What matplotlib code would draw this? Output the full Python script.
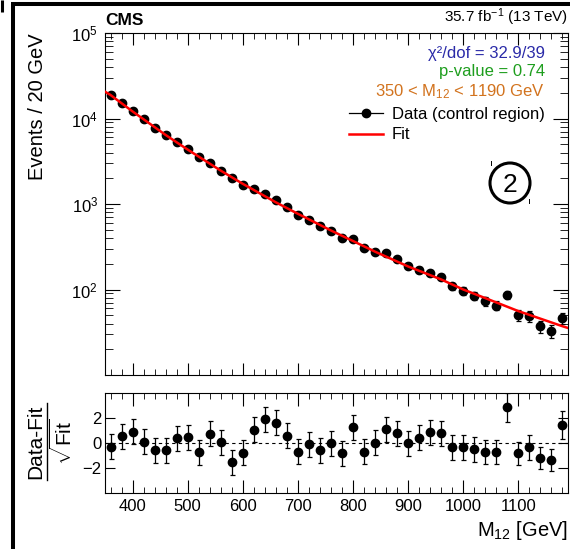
import numpy as np
import matplotlib.pyplot as plt
from matplotlib.lines import Line2D
from matplotlib.patches import Ellipse
from matplotlib.ticker import MultipleLocator, LogLocator, NullFormatter, NullLocator

plt.rcParams['font.family'] = ['Liberation Sans', 'DejaVu Sans']
plt.rcParams['mathtext.fontset'] = 'custom'
plt.rcParams['mathtext.rm'] = 'Liberation Sans'
plt.rcParams['mathtext.it'] = 'Liberation Sans:italic'
plt.rcParams['mathtext.bf'] = 'Liberation Sans:bold'
plt.rcParams['mathtext.sf'] = 'Liberation Sans'

# 20 GeV bins between 350 and 1190 GeV (bin centres)
m12 = [360, 380, 400, 420, 440, 460, 480, 500, 520, 540,
       560, 580, 600, 620, 640, 660, 680, 700, 720, 740,
       760, 780, 800, 820, 840, 860, 880, 900, 920, 940,
       960, 980, 1000, 1020, 1040, 1060, 1080, 1100, 1120, 1140,
       1160, 1180]

events = [18800, 15100, 12200, 9800, 7830, 6370, 5310, 4360, 3530, 2980,
          2460, 2000, 1690, 1500, 1300, 1100, 923, 749, 653, 556,
          489, 405, 394, 308, 277, 265, 225, 186, 170, 158,
          140, 109, 97, 85, 73, 65, 86, 50, 48.6, 37.3,
          32.6, 45.9]

pulls = [-0.30, 0.56, 0.90, 0.10, -0.56, -0.58, 0.40, 0.45, -0.72, 0.74,
         0.05, -1.52, -0.78, 1.06, 1.90, 1.62, 0.58, -0.70, -0.08, -0.56,
         -0.03, -0.80, 1.26, -0.70, 0.02, 1.10, 0.78, -0.03, 0.42, 0.88,
         0.77, -0.32, -0.35, -0.48, -0.70, -0.70, 2.88, -0.83, -0.35, -1.20,
         -1.34, 1.42]

pull_err = [1.0] * 34 + [0.96, 0.96, 1.16, 0.95, 0.98, 0.91, 0.89, 1.11]

# fit curve
fit_m12 = [350, 360, 400, 460, 500, 560, 600, 660, 700, 760,
           800, 840, 900, 960, 1000, 1060, 1100, 1180, 1190]
fit_val = [20600, 18840, 12100, 6420, 4330, 2457, 1722, 1046, 768, 490,
           369, 277, 186, 131, 100, 70.6, 55.9, 37.2, 35.5]

fig = plt.figure(figsize=(5.7, 5.49), dpi=100)
ax = fig.add_axes([0.1842, 0.3169, 0.8123, 0.6230])
ax2 = fig.add_axes([0.1842, 0.1020, 0.8123, 0.1821])

# main panel
ax.errorbar(m12, events, yerr=np.sqrt(events), fmt='o', color='black',
            markersize=6, elinewidth=0.9, capsize=1.8, capthick=0.9, zorder=3)
ax.plot(fit_m12, fit_val, color='red', lw=1.8, zorder=4)

ax.set_yscale('log')
ax.set_xlim(350, 1190)
ax.set_ylim(10, 1e5)
ax.set_yticks([1e2, 1e3, 1e4, 1e5])
ax.yaxis.set_minor_locator(LogLocator(base=10, subs=np.arange(2, 10)))
ax.yaxis.set_minor_formatter(NullFormatter())
ax.xaxis.set_major_locator(MultipleLocator(100))
ax.xaxis.set_minor_locator(MultipleLocator(20))
ax.tick_params(which='both', direction='in', top=True, right=True,
               labelbottom=False, labelsize=12)
ax.tick_params(axis='y', which='major', length=11, pad=5)
ax.tick_params(axis='y', which='minor', length=5.5)
ax.tick_params(axis='x', which='major', length=8.5)
ax.tick_params(axis='x', which='minor', length=4)
ax.set_ylabel('Events / 20 GeV', fontsize=14.5, loc='top')
ax.yaxis.set_label_coords(-0.125, 1.0)

ax.text(0.0, 1.015, 'CMS', transform=ax.transAxes, fontsize=12.5,
        fontweight='bold', ha='left', va='bottom')
ax.text(1.0, 1.015, r'35.7 fb$^{-1}$ (13 TeV)', transform=ax.transAxes,
        fontsize=11, ha='right', va='bottom')

ax.text(0.950, 0.9415, 'χ²/dof = 32.9/39', transform=ax.transAxes,
        fontsize=12, color='#2a2aa8', ha='right', va='center')
ax.text(0.950, 0.886, 'p-value = 0.74', transform=ax.transAxes,
        fontsize=12, color='#1e9e1e', ha='right', va='center')
ax.text(0.950, 0.8275, r'350 < M$_{12}$ < 1190 GeV', transform=ax.transAxes,
        fontsize=12, color='#d2731e', ha='right', va='center')

handles = [Line2D([], [], color='black', marker='o', markersize=6, lw=0.9),
           Line2D([], [], color='red', lw=1.8)]
ax.legend(handles, ['Data (control region)', 'Fit'], loc='upper right',
          bbox_to_anchor=(0.950, 0.785), frameon=False, fontsize=12,
          handlelength=2.0, handletextpad=0.55, labelspacing=0.35,
          borderaxespad=0, borderpad=0)

# ratio panel
ax2.axhline(0, color='black', ls=(0, (3, 3)), lw=0.8, zorder=1)
ax2.errorbar(m12, pulls, yerr=pull_err, fmt='o', color='black',
             markersize=6, elinewidth=0.9, capsize=1.8, capthick=0.9, zorder=3)
ax2.set_xlim(350, 1190)
ax2.set_ylim(-4, 4)
ax2.set_yticks([-2, 0, 2])
ax2.yaxis.set_minor_locator(NullLocator())
ax2.xaxis.set_major_locator(MultipleLocator(100))
ax2.xaxis.set_minor_locator(MultipleLocator(20))
ax2.tick_params(which='both', direction='in', top=True, right=True, labelsize=12)
ax2.tick_params(axis='x', which='major', length=9.5, pad=4)
ax2.tick_params(axis='x', which='minor', length=4.3)
ax2.tick_params(axis='y', which='major', length=7, pad=2.5)
ax2.set_xlabel(r'M$_{12}$ [GeV]', fontsize=14.5, loc='right')
ax2.xaxis.set_label_coords(1.0, -0.26)

# (Data-Fit)/sqrt(Fit) label drawn as a rotated fraction
ylab_y = 1 - 442 / 549
fig.text(36 / 570, ylab_y, 'Data-Fit', fontsize=15, rotation=90,
         ha='center', va='center')
fig.text(63 / 570, ylab_y, r'$\sqrt{\mathrm{Fit}}$', fontsize=15, rotation=90,
         ha='center', va='center')
fig.add_artist(Line2D([47 / 570, 47 / 570], [1 - 480 / 549, 1 - 403 / 549],
                      transform=fig.transFigure, color='black', lw=1.0))

for a in (ax, ax2):
    for s in a.spines.values():
        s.set_linewidth(0.8)

# circled "2" marker
fig.add_artist(Ellipse((510 / 570, 1 - 183 / 549), 40 / 570, 40 / 549,
                       transform=fig.transFigure, fill=False,
                       edgecolor='black', lw=2.2))
fig.text(510 / 570, 1 - 183 / 549, '2', fontsize=19, ha='center', va='center_baseline')
fig.add_artist(Line2D([491 / 570, 491 / 570], [1 - 161 / 549, 1 - 165 / 549],
                      transform=fig.transFigure, color='black', lw=0.7))
fig.add_artist(Line2D([529 / 570, 529 / 570], [1 - 199 / 549, 1 - 203 / 549],
                      transform=fig.transFigure, color='black', lw=0.7))

# black frame edges of the scanned figure
fig.add_artist(Line2D([13 / 570, 13 / 570], [0, 1 - 3.5 / 549],
                      transform=fig.transFigure, color='black', lw=2.9,
                      solid_capstyle='butt'))
fig.add_artist(Line2D([11 / 570, 1], [1 - 3.5 / 549, 1 - 3.5 / 549],
                      transform=fig.transFigure, color='black', lw=2.9,
                      solid_capstyle='butt'))
fig.add_artist(Line2D([1.5 / 570, 1.5 / 570], [1, 1 - 12 / 549],
                      transform=fig.transFigure, color='black', lw=2.2,
                      solid_capstyle='butt'))

fig.savefig('out.png', dpi=100)
